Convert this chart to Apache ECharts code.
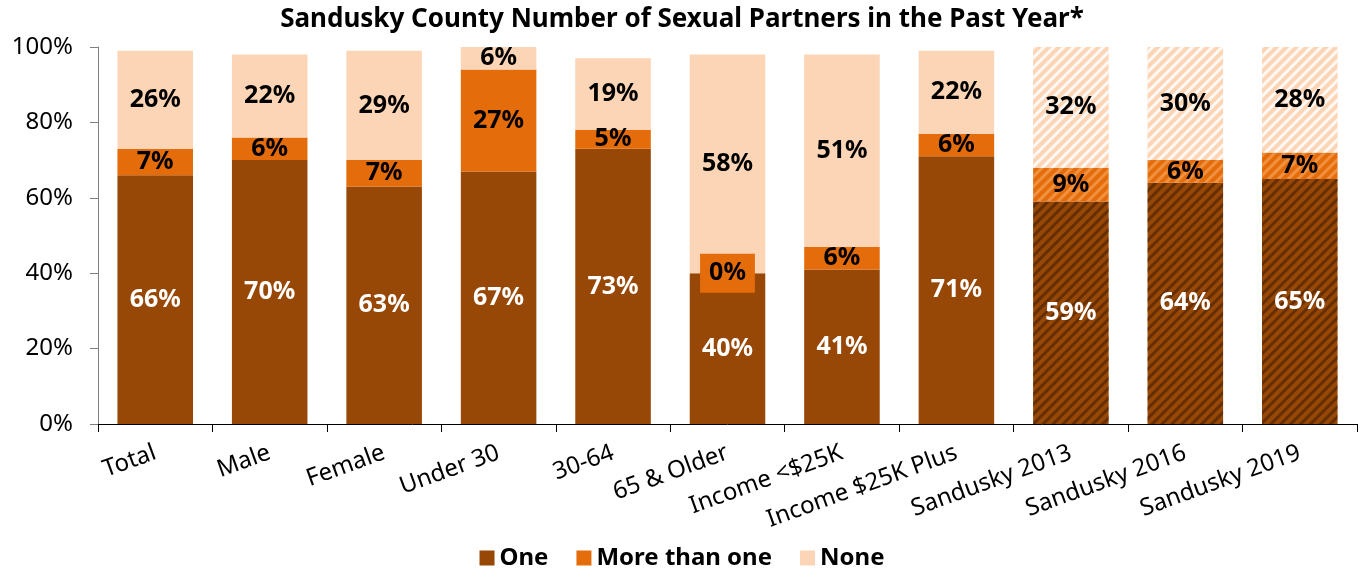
<!DOCTYPE html>
<html>
<head>
<meta charset="utf-8">
<script src="https://cdn.jsdelivr.net/npm/echarts@6/dist/echarts.min.js"></script>
<style>
  html, body { margin: 0; padding: 0; background: #fff; }
  #chart { width: 1364px; height: 575px; }
</style>
</head>
<body>
<div id="chart"></div>
<script>
const categories = ['Total', 'Male', 'Female', 'Under 30', '30-64', '65 & Older',
  'Income <$25K', 'Income $25K Plus', 'Sandusky 2013', 'Sandusky 2016', 'Sandusky 2019']
const one = [66, 70, 63, 67, 73, 40, 41, 71, 59, 64, 65]
const moreThanOne = [7, 6, 7, 27, 5, 0, 6, 6, 9, 6, 7]
const none = [26, 22, 29, 6, 19, 58, 51, 22, 32, 30, 28]
const hatched = ['Sandusky 2013', 'Sandusky 2016', 'Sandusky 2019']

const colors = { one: '#974706', more: '#E46C0A', none: '#FBD5B5' }
const font = '"Noto Sans", "Open Sans", sans-serif'

// diagonal stripes for the trend bars
function stripes(color) {
  return {
    symbol: 'rect',
    symbolSize: 1,
    dashArrayX: [1, 0],
    dashArrayY: [3, 4],
    rotation: -Math.PI / 4,
    color: color
  }
}

function items(values, stripeColor, extra) {
  return values.map((v, i) => {
    const item = { value: v }
    if (hatched.includes(categories[i])) item.itemStyle = { decal: stripes(stripeColor) }
    if (extra) Object.assign(item, extra(v, i))
    return item
  })
}

const labelBase = {
  show: true,
  position: 'inside',
  fontFamily: font,
  fontWeight: 'bold',
  fontSize: 25,
  formatter: p => p.value + '%'
}

const chart = echarts.init(document.getElementById('chart'), null, { renderer: 'canvas' })
chart.setOption({
  animation: false,
  title: {
    text: 'Sandusky County Number of Sexual Partners in the Past Year*',
    left: 'center',
    top: 2,
    textStyle: { fontFamily: font, fontWeight: 'bold', fontSize: 26, color: '#000' }
  },
  legend: {
    bottom: 0,
    left: 'center',
    icon: 'rect',
    itemWidth: 15,
    itemHeight: 15,
    itemGap: 28,
    textStyle: { fontFamily: font, fontWeight: 'bold', fontSize: 24, color: '#000' },
    data: ['One', 'More than one', 'None']
  },
  grid: { left: 98, right: 7, top: 47, bottom: 151, containLabel: false },
  xAxis: {
    type: 'category',
    data: categories,
    axisLine: { lineStyle: { color: '#000', width: 1 } },
    axisTick: { show: true, length: 8, lineStyle: { color: '#000' } },
    axisLabel: {
      rotate: 20,
      margin: 28,
      interval: 0,
      fontFamily: font,
      fontSize: 24,
      color: '#000'
    }
  },
  yAxis: {
    type: 'value',
    min: 0,
    max: 100,
    interval: 20,
    splitLine: { show: false },
    axisLine: { show: true, lineStyle: { color: '#808080' } },
    axisTick: { show: true, length: 8, lineStyle: { color: '#808080' } },
    axisLabel: {
      formatter: '{value}%',
      margin: 25,
      fontFamily: font,
      fontSize: 24,
      color: '#000'
    }
  },
  series: [
    {
      name: 'One',
      type: 'bar',
      stack: 'total',
      barWidth: '66%',
      itemStyle: { color: colors.one },
      label: Object.assign({}, labelBase, { color: '#fff' }),
      data: items(one, 'rgba(60,25,0,0.55)')
    },
    {
      name: 'More than one',
      type: 'bar',
      stack: 'total',
      itemStyle: { color: colors.more },
      label: Object.assign({}, labelBase, { color: '#000' }),
      data: items(moreThanOne, 'rgba(255,190,130,0.45)', v => v === 0
        ? { label: { backgroundColor: colors.more, padding: [7, 9, 7, 9] } }
        : {})
    },
    {
      name: 'None',
      type: 'bar',
      stack: 'total',
      itemStyle: { color: colors.none },
      label: Object.assign({}, labelBase, { color: '#000' }),
      data: items(none, 'rgba(255,255,255,0.85)')
    }
  ]
})
</script>
</body>
</html>
